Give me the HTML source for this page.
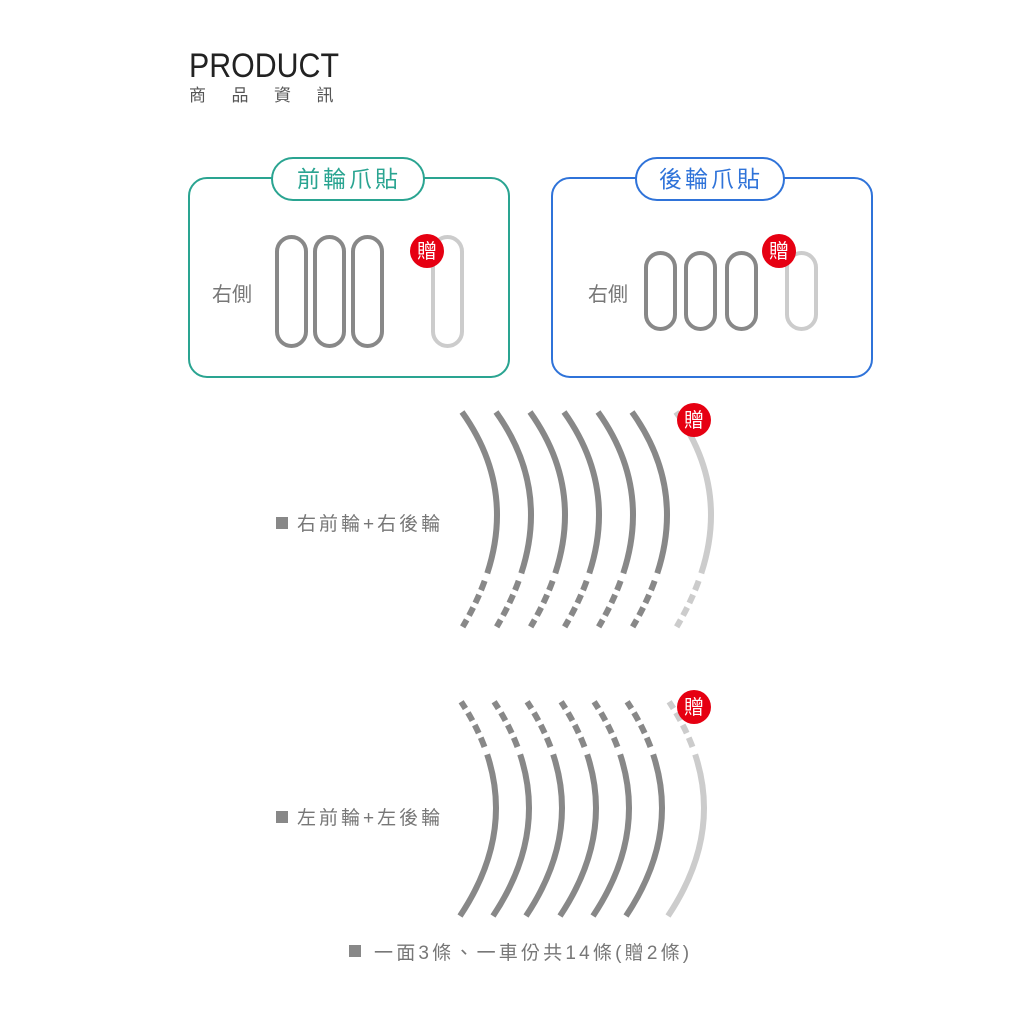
<!DOCTYPE html>
<html><head><meta charset="utf-8"><style>
body{margin:0;background:#fff;width:1024px;height:1024px;overflow:hidden}
svg{display:block}
text{font-family:"Liberation Sans","Noto Sans CJK TC",sans-serif}
</style></head><body>
<svg width="1024" height="1024" viewBox="0 0 1024 1024">
<defs>
<path id="s1" d="M462,412 Q532,510 462,628" fill="none"/>
<path id="s2" d="M460,916 Q532,808 460,700" fill="none"/>
<g id="gift"><circle r="17" fill="#e60012"/><text y="7" text-anchor="middle" font-size="20" fill="#fff">贈</text></g>
</defs>
<text x="189" y="77" font-size="34" fill="#222" font-family="Liberation Sans" style="font-weight:300" textLength="150" lengthAdjust="spacingAndGlyphs">PRODUCT</text>
<text x="189" y="101" font-size="17" fill="#555" letter-spacing="25.5">商品資訊</text>

<rect x="189" y="178" width="320" height="199" rx="18" fill="none" stroke="#2aa491" stroke-width="2"/>
<rect x="272" y="158" width="152" height="42" rx="21" fill="#fff" stroke="#2aa491" stroke-width="2"/>
<text x="349" y="187" text-anchor="middle" font-size="23" fill="#2aa491" letter-spacing="3">前輪爪貼</text>
<text x="212" y="301" font-size="20" fill="#777">右側</text>
<g fill="none" stroke-width="4">
<rect x="277" y="237" width="29" height="109" rx="14.5" stroke="#888"/>
<rect x="315" y="237" width="29" height="109" rx="14.5" stroke="#888"/>
<rect x="353" y="237" width="29" height="109" rx="14.5" stroke="#888"/>
<rect x="433" y="237" width="29" height="109" rx="14.5" stroke="#ccc"/>
</g>
<use href="#gift" x="427" y="251"/>

<rect x="552" y="178" width="320" height="199" rx="18" fill="none" stroke="#2f73d9" stroke-width="2"/>
<rect x="636" y="158" width="148" height="42" rx="21" fill="#fff" stroke="#2f73d9" stroke-width="2"/>
<text x="711" y="187" text-anchor="middle" font-size="23" fill="#2f73d9" letter-spacing="3">後輪爪貼</text>
<text x="588" y="301" font-size="20" fill="#777">右側</text>
<g fill="none" stroke-width="4">
<rect x="646" y="253" width="29" height="76" rx="14.5" stroke="#888"/>
<rect x="686" y="253" width="29" height="76" rx="14.5" stroke="#888"/>
<rect x="727" y="253" width="29" height="76" rx="14.5" stroke="#888"/>
<rect x="787" y="253" width="29" height="76" rx="14.5" stroke="#ccc"/>
</g>
<use href="#gift" x="779" y="251"/>

<g stroke-width="6" stroke-dasharray="170 8 10 5 9 5 9 5 8 100">
<use href="#s1" x="0" stroke="#888"/>
<use href="#s1" x="34" stroke="#888"/>
<use href="#s1" x="68" stroke="#888"/>
<use href="#s1" x="102" stroke="#888"/>
<use href="#s1" x="136" stroke="#888"/>
<use href="#s1" x="170" stroke="#888"/>
<use href="#s1" x="214" stroke="#ccc"/>
</g>
<use href="#gift" x="694" y="420"/>
<rect x="276" y="517" width="12" height="12" fill="#888"/>
<text x="297" y="530" font-size="19" fill="#777" letter-spacing="3">右前輪+右後輪</text>

<g stroke-width="6" stroke-dasharray="170 8 10 5 9 5 9 5 8 100">
<use href="#s2" x="0" stroke="#888"/>
<use href="#s2" x="33" stroke="#888"/>
<use href="#s2" x="66" stroke="#888"/>
<use href="#s2" x="100" stroke="#888"/>
<use href="#s2" x="133" stroke="#888"/>
<use href="#s2" x="166" stroke="#888"/>
<use href="#s2" x="208" stroke="#ccc"/>
</g>
<use href="#gift" x="694" y="707"/>
<rect x="276" y="811" width="12" height="12" fill="#888"/>
<text x="297" y="824" font-size="19" fill="#777" letter-spacing="3">左前輪+左後輪</text>

<rect x="349" y="945" width="12" height="12" fill="#888"/>
<text x="374" y="959" font-size="19" fill="#777" letter-spacing="3.2">一面3條、一車份共14條(贈2條)</text>
</svg>
</body></html>
